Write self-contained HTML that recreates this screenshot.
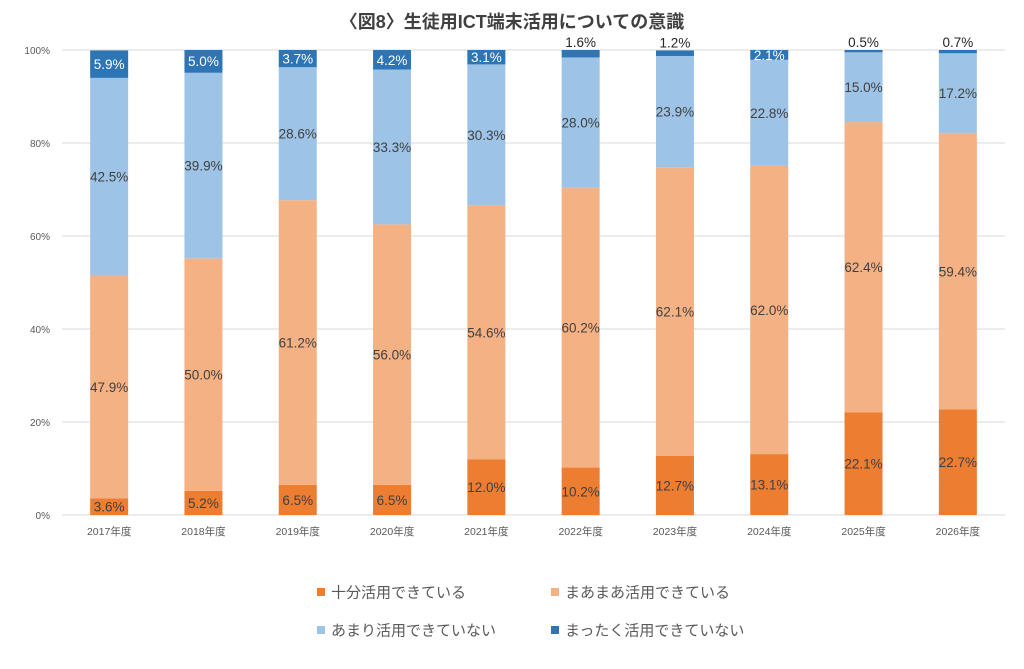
<!DOCTYPE html>
<html><head><meta charset="utf-8"><style>
html,body{margin:0;padding:0;background:#fff;}
svg{display:block;font-family:"Liberation Sans","Noto Sans CJK JP",sans-serif;}
</style></head><body>
<svg id="c" width="1024" height="669" viewBox="0 0 1024 669" xmlns="http://www.w3.org/2000/svg"></svg>
<script>
const data=[
["2017",3.6,47.9,42.5,5.9],["2018",5.2,50.0,39.9,5.0],["2019",6.5,61.2,28.6,3.7],
["2020",6.5,56.0,33.3,4.2],["2021",12.0,54.6,30.3,3.1],["2022",10.2,60.2,28.0,1.6],
["2023",12.7,62.1,23.9,1.2],["2024",13.1,62.0,22.8,2.1],["2025",22.1,62.4,15.0,0.5],
["2026",22.7,59.4,17.2,0.7]];
const cols=["#ED7D31","#F4B183","#9DC3E6","#2E75B6"];
const y0=515,y1=50,H=y0-y1,x0=62,step=94.3,bw=38;
let s='<text x="512" y="28" text-anchor="middle" font-size="18" font-weight="bold" fill="#404040">〈図8〉生徒用ICT端末活用についての意識</text>';
for(let i=0;i<=5;i++){const y=y0-H*i/5;s+=`<line x1="${x0}" x2="1005" y1="${y}" y2="${y}" stroke="#d9d9d9" stroke-width="1"/>`;
s+=`<text x="50" y="${y+4}" text-anchor="end" font-size="10" fill="#595959">${i*20}%</text>`;}
data.forEach((d,i)=>{const cx=x0+step*(i+0.5);let acc=0;
for(let k=0;k<4;k++){const v=d[k+1];const ya=y0-H*acc/100;acc+=v;const yb=Math.max(y1,y0-H*acc/100);
s+=`<rect x="${cx-bw/2}" y="${yb}" width="${bw}" height="${ya-yb}" fill="${cols[k]}"/>`;}
acc=0;
for(let k=0;k<4;k++){const v=d[k+1];const ya=y0-H*acc/100;acc+=v;const yb=y0-H*acc/100;let ym=(ya+yb)/2+5;let fill=k==3?"#fff":"#404040";
if(k==3&&v<2){ym=yb-3;fill="#262626";}
s+=`<text x="${cx}" y="${ym}" text-anchor="middle" font-size="13.5" fill="${fill}">${v.toFixed(1)}%</text>`;}
s+=`<text x="${cx}" y="535" text-anchor="middle" font-size="10.5" fill="#595959">${d[0]}年度</text>`;});
const lg=[[317,592,"十分活用できている"],[551,592,"まあまあ活用できている"],[317,630,"あまり活用できていない"],[551,630,"まっったく活用できていない".replace("っっ","っ")]];
lg.forEach((l,k)=>{s+=`<rect x="${l[0]}" y="${l[1]-4}" width="8" height="8" fill="${cols[k]}"/><text x="${l[0]+14}" y="${l[1]+5.5}" font-size="15" fill="#595959">${l[2]}</text>`;});
document.getElementById("c").innerHTML=s;
</script>
</body></html>
